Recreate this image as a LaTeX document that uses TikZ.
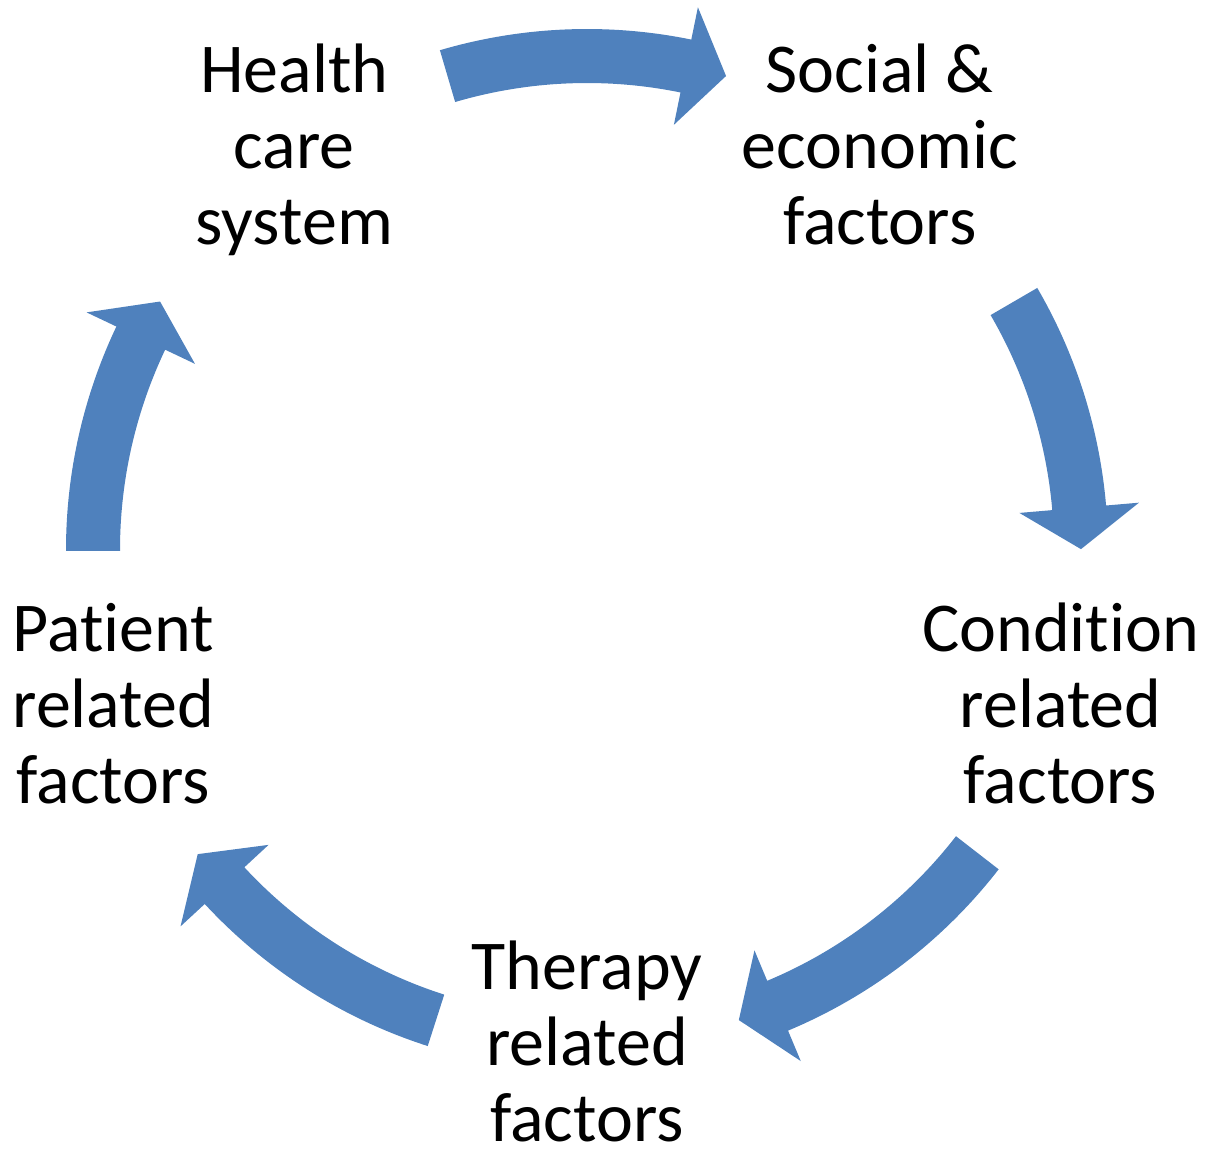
\documentclass[tikz,border=0pt]{standalone}
\usepackage{fontspec}
\setmainfont{Carlito}[Ligatures=NoCommon]
\usepackage{tikz}
\usetikzlibrary{positioning}
\definecolor{arrowblue}{RGB}{79,129,189}
\tikzset{factor/.style={align=center, inner sep=0pt, font=\fontsize{70pt}{76pt}\selectfont}}
% curved block arrow, clockwise: start angle, tip angle
\newcommand{\cyclearrow}[2]{%
  \pgfmathsetmacro{\headangle}{#2+4.8}
  \fill[arrowblue] (#1:521pt) arc[start angle=#1, end angle=\headangle, radius=521pt]
    -- (\headangle:554pt) -- (#2:494pt) -- (\headangle:434pt) -- (\headangle:467pt)
    arc[start angle=\headangle, end angle=#1, radius=467pt] -- cycle;}

\begin{document}
\begin{tikzpicture}[scale=1.0,transform shape]
        \useasboundingbox (-587pt,-599pt) rectangle (624pt,550pt);
        \node[factor, yshift=-3pt] (Health) at (126:498pt) {Health\\care\\system};
        \node[factor, yshift=3pt] (Social) at (54:498pt) {Social \&\\economic\\factors};
        \node[factor] (Condition) at (-18:498pt) {Condition\\related\\factors};
        \node[factor, anchor=south, text depth=0pt] (Therapy) at (0pt,-592pt) {Therapy\\related\\factors};
        \node[factor] (Patient) at (198:498pt) {Patient\\related\\factors};
        \cyclearrow{106.4}{73.65}
        \cyclearrow{30.2}{0.1}
        \cyclearrow{-37.8}{-72.1}
        \cyclearrow{-107.8}{-142}
        \cyclearrow{180.1}{149.8}
      \end{tikzpicture}
\end{document}
